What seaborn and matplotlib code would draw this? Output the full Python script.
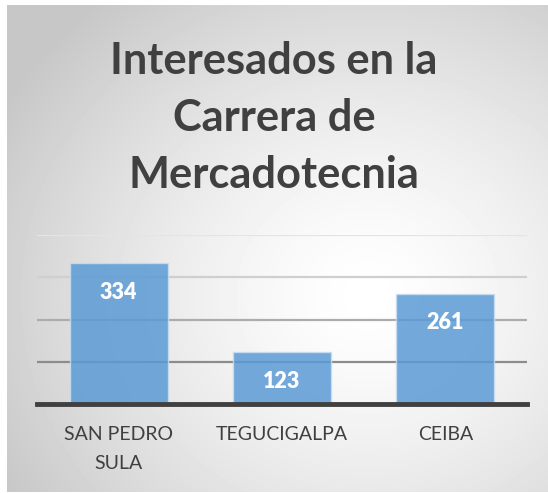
import numpy as np
import pandas as pd
import matplotlib
matplotlib.use("Agg")
import matplotlib.pyplot as plt
import seaborn as sns

# datos
ciudades = ["SAN PEDRO\nSULA", "TEGUCIGALPA", "CEIBA"]
interesados = [334, 123, 261]
niveles_grid = [100, 200, 300, 400]

df = pd.DataFrame({"ciudad": ciudades, "interesados": interesados})

sns.set_style("white")
plt.rcParams["font.family"] = ["Lato", "DejaVu Sans"]

fig = plt.figure(figsize=(5.48, 4.93), dpi=100)
fig.patch.set_facecolor("white")

# fondo con degradado radial
bg = fig.add_axes([7 / 548, 1 / 493, 541 / 548, 487 / 493])
yy, xx = np.mgrid[0:487, 0:541]
r = np.sqrt(((xx - 360) / 420) ** 2 + ((yy - 290) / 380) ** 2)
r = np.clip(r, 0, 1)
shade = 1.0 - 0.22 * r ** 1.4
bg.imshow(shade, cmap="gray", vmin=0, vmax=1, aspect="auto", interpolation="bilinear")
bg.set_axis_off()

ax = fig.add_axes([37 / 548, 1 - 404 / 493, 490 / 548, 169 / 493])
ax.patch.set_alpha(0)

# lineas de cuadricula
colores_grid = ["#8c8c8c", "#acacac", "#cfcfcf", "#e4e4e4"]
for nivel, c in zip(niveles_grid, colores_grid):
    ax.axhline(nivel, color=c, lw=1.6, zorder=0)

sns.barplot(data=df, x="ciudad", y="interesados", color="#5B9BD5", width=0.6,
            saturation=1, alpha=0.85, edgecolor="#c9ddf0", linewidth=1, ax=ax, zorder=2)

for i, v in enumerate(interesados):
    ax.annotate(str(v), (i, v), xytext=(0, -21), textcoords="offset points",
                ha="center", va="center", color="white",
                fontsize=15.5, fontweight="heavy", zorder=3)

ax.set_xlim(-0.5, 2.5)
ax.set_ylim(0, 400)
ax.set_yticks([])
ax.set_xlabel("")
ax.set_ylabel("")
for s in ["top", "right", "left"]:
    ax.spines[s].set_visible(False)
ax.spines["bottom"].set_color("#404040")
ax.spines["bottom"].set_linewidth(3.5)
ax.spines["bottom"].set_zorder(4)
ax.tick_params(axis="x", length=0, pad=16, labelsize=14, labelcolor="#404040")
for t in ax.get_xticklabels():
    t.set_linespacing(1.85)

fig.text(0.5, 1 - 188 / 493, "Interesados en la\nCarrera de\nMercadotecnia",
         ha="center", va="baseline", fontsize=31.2, fontweight="bold",
         color="#404040", linespacing=1.52)

fig.savefig("out.png", dpi=100)
